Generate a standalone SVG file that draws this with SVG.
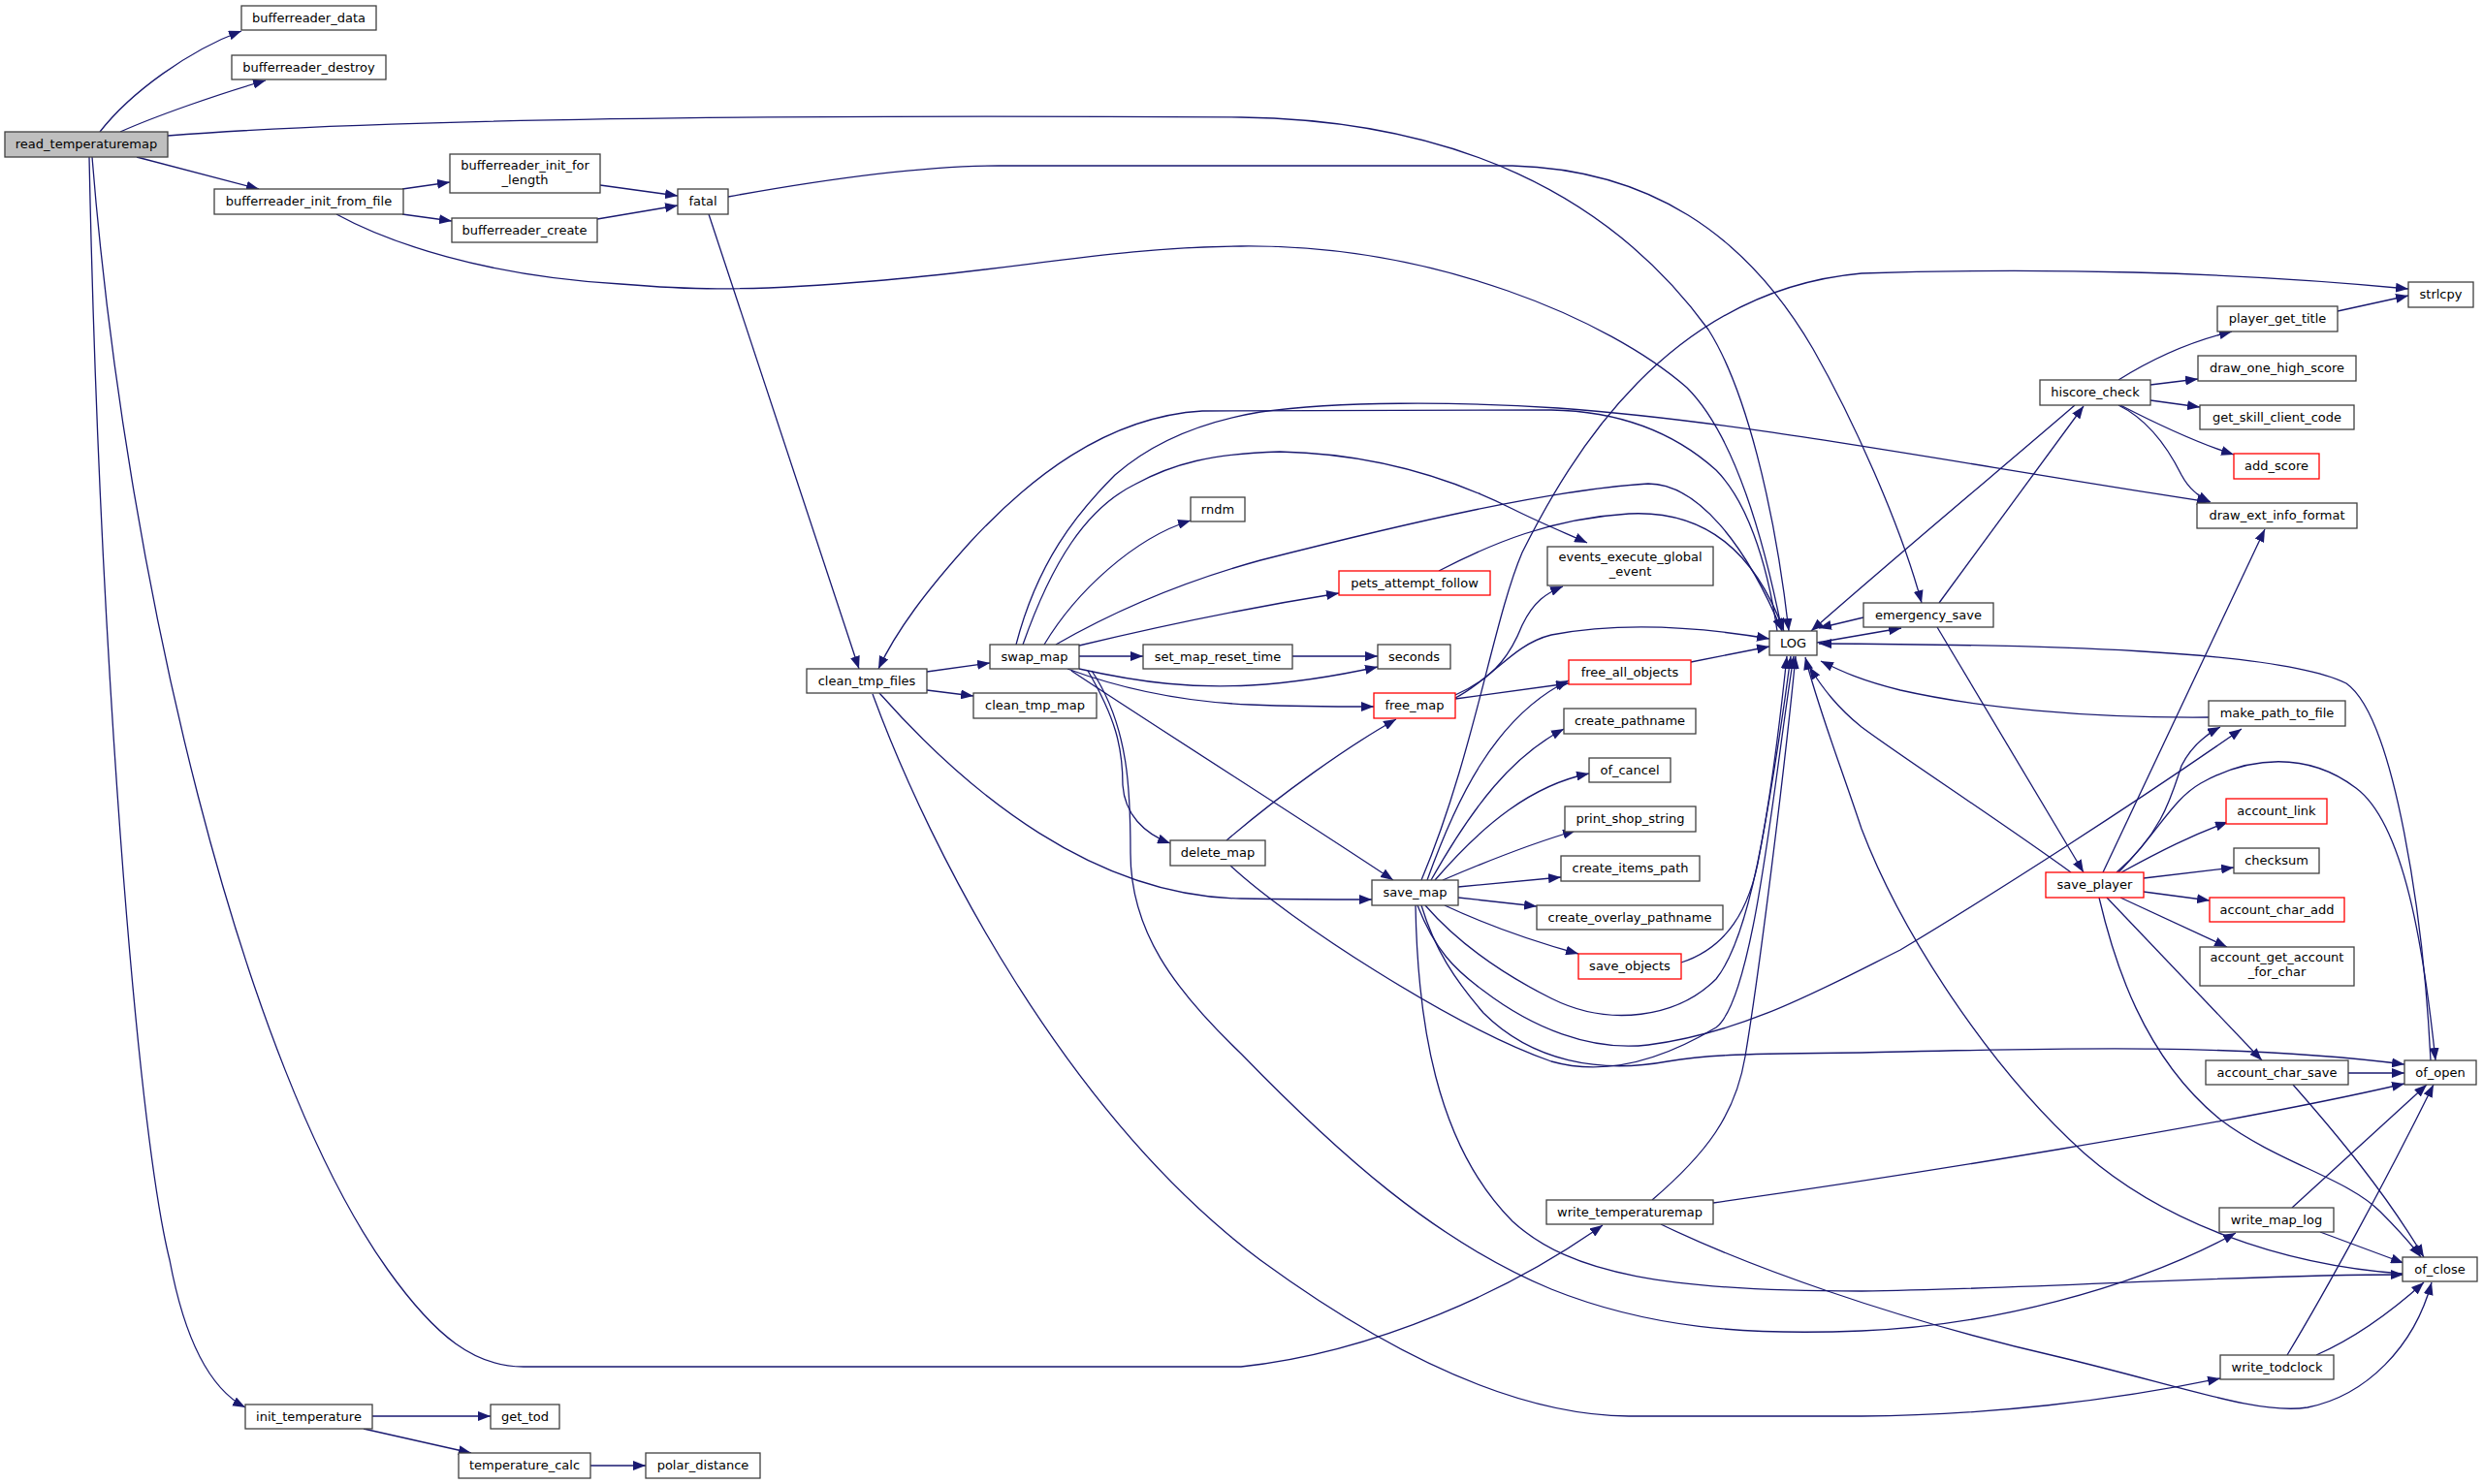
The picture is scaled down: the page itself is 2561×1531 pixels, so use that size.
<svg xmlns="http://www.w3.org/2000/svg" width="2561" height="1531" viewBox="0 0 2561 1531">
<style>
.n rect{fill:#fff;stroke:#404040;stroke-width:1.3}
.r rect{fill:#fff;stroke:#ff0000;stroke-width:1.3}
.root rect{fill:#bfbfbf;stroke:#404040;stroke-width:1.3}
text{font-family:'DejaVu Sans',sans-serif;font-size:13px;text-anchor:middle;fill:#000}
#edges path{fill:none;stroke:#191970;stroke-width:1.3;marker-end:url(#a)}
</style>
<defs>
<marker id="a" viewBox="0 0 13 10" refX="13" refY="5" markerWidth="13" markerHeight="10" markerUnits="userSpaceOnUse" orient="auto"><path d="M0,0L13,5L0,10z" fill="#191970"/></marker>
</defs>
<rect width="2561" height="1531" fill="#fff"/>
<g id="edges">
<path d="M103,136 C135,95 195,52 249,32"/>
<path d="M124,136 C160,120 225,97 274,83"/>
<path d="M173,140 C400,122 800,118 1280,121 C1500,124 1660,200 1762,340 C1800,400 1830,520 1845,651"/>
<path d="M141,162 L267,195"/>
<path d="M92,162 C102,650 140,1160 175,1300 C190,1380 215,1432 253,1452"/>
<path d="M95,162 C130,600 250,1100 400,1310 C450,1380 490,1410 540,1410 L1280,1410 C1420,1395 1560,1330 1653,1264"/>
<path d="M415,195 L464,188"/>
<path d="M415,221 L466,228"/>
<path d="M347,221 C400,250 500,285 640,293 C700,298 760,302 900,290 C1050,278 1150,255 1280,254 C1480,252 1660,330 1740,400 C1790,450 1820,560 1838,651"/>
<path d="M619,191 L699,202"/>
<path d="M616,226 L699,212"/>
<path d="M751,203 C850,185 950,171 1030,171 L1560,171 C1700,175 1800,240 1870,360 C1910,430 1960,540 1982,622"/>
<path d="M731,221 L886,690"/>
<path d="M956,693 L1021,684"/>
<path d="M956,712 L1004,718"/>
<path d="M907,715 C1000,820 1130,925 1280,927 C1340,928 1380,928 1415,928"/>
<path d="M900,716 C960,880 1100,1150 1300,1300 C1430,1395 1560,1460 1680,1461 L1920,1461 C2050,1460 2180,1445 2290,1422"/>
<path d="M1077,665 C1110,610 1170,555 1228,537"/>
<path d="M1113,677 L1179,677"/>
<path d="M1113,666 C1200,645 1300,625 1381,612"/>
<path d="M1055,665 C1085,580 1120,525 1170,500 C1210,478 1250,468 1320,466 C1420,468 1500,495 1560,525 C1590,540 1615,550 1637,560"/>
<path d="M1089,665 C1150,630 1220,600 1300,578 C1450,540 1600,505 1700,499 C1750,499 1800,560 1838,651"/>
<path d="M1048,665 C1070,580 1110,530 1150,490 C1190,455 1240,435 1300,425 C1380,414 1500,414 1607,421 C1800,435 2000,475 2279,518"/>
<path d="M1113,690 C1180,705 1230,710 1290,707 C1340,704 1380,697 1421,688"/>
<path d="M1101,690 C1160,712 1220,724 1290,727 C1340,729 1380,729 1417,729"/>
<path d="M1105,692 C1200,755 1350,850 1437,908"/>
<path d="M1122,692 C1150,740 1158,770 1158,810 C1160,840 1180,860 1207,870"/>
<path d="M1126,692 C1165,750 1166,820 1166,880 C1166,960 1210,1020 1280,1087 C1380,1190 1480,1280 1600,1330 C1700,1370 1800,1378 1920,1373 C2050,1368 2200,1330 2306,1272"/>
<path d="M1333,677 L1421,677"/>
<path d="M1484,589 C1540,560 1600,535 1680,530 C1760,526 1810,570 1840,651"/>
<path d="M1501,717 C1545,698 1560,670 1570,645 C1582,620 1595,612 1612,605"/>
<path d="M1501,720 C1540,700 1560,665 1600,655 C1680,640 1760,648 1825,659"/>
<path d="M1501,721 L1618,705"/>
<path d="M1265,867 C1320,820 1390,770 1440,742"/>
<path d="M1269,893 C1330,950 1500,1060 1600,1095 C1660,1112 1720,1090 1770,1060 C1810,1030 1830,800 1850,677"/>
<path d="M1466,908 C1520,780 1540,640 1570,570 C1620,470 1720,300 1920,282 C2100,276 2300,280 2484,298"/>
<path d="M1472,908 C1500,830 1540,740 1618,702"/>
<path d="M1476,908 C1520,830 1560,780 1613,752"/>
<path d="M1480,908 C1530,850 1580,810 1639,798"/>
<path d="M1488,908 C1530,890 1580,870 1625,857"/>
<path d="M1504,915 L1610,905"/>
<path d="M1504,926 L1585,935"/>
<path d="M1490,934 C1520,948 1570,968 1628,984"/>
<path d="M1466,934 C1480,980 1500,1010 1530,1045 C1580,1095 1650,1108 1720,1095 C1760,1088 1800,1087 1920,1086 C2100,1082 2300,1075 2480,1098"/>
<path d="M1462,934 C1480,980 1500,1000 1530,1022 C1580,1060 1640,1085 1700,1078 C1800,1065 1880,1020 1960,980 C2060,920 2200,830 2312,752"/>
<path d="M1460,934 C1462,1050 1480,1180 1560,1260 C1620,1315 1720,1332 1920,1332 C2100,1330 2300,1315 2479,1315"/>
<path d="M1470,934 C1510,980 1560,1010 1600,1030 C1660,1060 1730,1050 1770,1010 C1810,960 1830,800 1843,677"/>
<path d="M1734,993 C1780,978 1805,940 1815,880 C1830,800 1840,730 1847,677"/>
<path d="M1744,683 L1825,667"/>
<path d="M1704,1238 C1760,1190 1790,1150 1800,1090 C1815,1000 1840,800 1852,677"/>
<path d="M1767,1241 C1950,1215 2300,1160 2480,1118"/>
<path d="M1713,1263 C1800,1305 1950,1360 2124,1400 C2250,1430 2330,1460 2380,1452 C2440,1440 2490,1390 2508,1323"/>
<path d="M1833,651 C1822,575 1800,515 1770,485 C1720,440 1660,424 1600,423 L1240,424 C1140,430 1060,495 1000,560 C955,610 925,650 906,690"/>
<path d="M1874,663 L1961,648"/>
<path d="M1922,637 L1876,648"/>
<path d="M2000,622 L2149,419"/>
<path d="M1998,647 L2149,900"/>
<path d="M2140,418 C2080,470 1960,570 1868,651"/>
<path d="M2185,392 C2220,370 2260,352 2302,342"/>
<path d="M2218,397 L2267,391"/>
<path d="M2218,413 L2269,420"/>
<path d="M2187,418 C2220,435 2260,455 2304,469"/>
<path d="M2185,418 C2220,435 2240,470 2250,490 C2258,505 2268,512 2280,518"/>
<path d="M2411,321 L2484,305"/>
<path d="M2169,900 L2336,546"/>
<path d="M2183,900 C2230,860 2240,820 2250,790 C2260,770 2275,758 2290,750"/>
<path d="M2185,900 C2225,860 2240,825 2270,808 C2320,780 2380,775 2430,813 C2480,850 2500,980 2512,1094"/>
<path d="M2188,900 C2230,877 2260,862 2298,848"/>
<path d="M2211,906 L2304,895"/>
<path d="M2211,920 L2279,929"/>
<path d="M2187,926 L2297,977"/>
<path d="M2173,926 L2333,1094"/>
<path d="M2165,926 C2180,990 2210,1090 2290,1155 C2350,1200 2420,1215 2455,1250 C2475,1270 2488,1285 2497,1297"/>
<path d="M2136,900 C2060,845 1960,780 1920,750 C1895,730 1880,710 1866,688"/>
<path d="M2278,740 C2150,741 2040,730 1960,712 C1920,702 1900,693 1878,682"/>
<path d="M2507,1094 C2500,950 2470,740 2420,705 C2350,670 2100,665 1876,664"/>
<path d="M2478,1314 C2350,1305 2230,1260 2150,1190 C2050,1100 1960,960 1920,855 C1895,780 1875,730 1862,678"/>
<path d="M2422,1107 L2480,1107"/>
<path d="M2365,1119 C2410,1170 2460,1230 2500,1297"/>
<path d="M2364,1246 L2503,1119"/>
<path d="M2393,1271 L2479,1303"/>
<path d="M2359,1398 C2400,1330 2460,1220 2510,1119"/>
<path d="M2389,1398 C2430,1380 2470,1350 2500,1323"/>
<path d="M384,1461 L506,1461"/>
<path d="M375,1474 L486,1499"/>
<path d="M609,1512 L666,1512"/>
</g>
<g id="read_temperaturemap" class="root"><rect x="5" y="136" width="168" height="26"/><text x="89" y="153">read_temperaturemap</text></g>
<g id="bufferreader_data" class="n"><rect x="249" y="6" width="139" height="25"/><text x="318.5" y="23">bufferreader_data</text></g>
<g id="bufferreader_destroy" class="n"><rect x="239" y="57" width="159" height="25"/><text x="318.5" y="74">bufferreader_destroy</text></g>
<g id="bufferreader_init_from_file" class="n"><rect x="221" y="195" width="195" height="26"/><text x="318.5" y="212">bufferreader_init_from_file</text></g>
<g id="bufferreader_init_for_length" class="n"><rect x="464" y="159" width="155" height="40"/><text x="541.5" y="175">bufferreader_init_for</text><text x="541.5" y="190">_length</text></g>
<g id="bufferreader_create" class="n"><rect x="466" y="225" width="150" height="25"/><text x="541" y="242">bufferreader_create</text></g>
<g id="fatal" class="n"><rect x="699" y="195" width="52" height="26"/><text x="725" y="212">fatal</text></g>
<g id="clean_tmp_files" class="n"><rect x="832" y="690" width="124" height="25"/><text x="894" y="707">clean_tmp_files</text></g>
<g id="swap_map" class="n"><rect x="1021" y="665" width="92" height="25"/><text x="1067" y="682">swap_map</text></g>
<g id="clean_tmp_map" class="n"><rect x="1004" y="715" width="127" height="26"/><text x="1067.5" y="732">clean_tmp_map</text></g>
<g id="rndm" class="n"><rect x="1228" y="513" width="56" height="25"/><text x="1256" y="530">rndm</text></g>
<g id="set_map_reset_time" class="n"><rect x="1179" y="665" width="154" height="25"/><text x="1256" y="682">set_map_reset_time</text></g>
<g id="delete_map" class="n"><rect x="1207" y="867" width="98" height="26"/><text x="1256" y="884">delete_map</text></g>
<g id="seconds" class="n"><rect x="1421" y="665" width="75" height="25"/><text x="1458.5" y="682">seconds</text></g>
<g id="pets_attempt_follow" class="r"><rect x="1381" y="589" width="156" height="25"/><text x="1459" y="606">pets_attempt_follow</text></g>
<g id="free_map" class="r"><rect x="1417" y="715" width="84" height="26"/><text x="1459" y="732">free_map</text></g>
<g id="save_map" class="n"><rect x="1415" y="908" width="89" height="26"/><text x="1459.5" y="925">save_map</text></g>
<g id="events_execute_global_event" class="n"><rect x="1596" y="564" width="171" height="40"/><text x="1681.5" y="579">events_execute_global</text><text x="1681.5" y="594">_event</text></g>
<g id="free_all_objects" class="r"><rect x="1618" y="681" width="126" height="25"/><text x="1681" y="698">free_all_objects</text></g>
<g id="create_pathname" class="n"><rect x="1613" y="731" width="136" height="26"/><text x="1681" y="748">create_pathname</text></g>
<g id="of_cancel" class="n"><rect x="1639" y="782" width="84" height="25"/><text x="1681" y="799">of_cancel</text></g>
<g id="print_shop_string" class="n"><rect x="1614" y="832" width="135" height="26"/><text x="1681.5" y="849">print_shop_string</text></g>
<g id="create_items_path" class="n"><rect x="1610" y="883" width="143" height="26"/><text x="1681.5" y="900">create_items_path</text></g>
<g id="create_overlay_pathname" class="n"><rect x="1585" y="934" width="192" height="25"/><text x="1681" y="951">create_overlay_pathname</text></g>
<g id="save_objects" class="r"><rect x="1628" y="984" width="106" height="26"/><text x="1681" y="1001">save_objects</text></g>
<g id="write_temperaturemap" class="n"><rect x="1595" y="1238" width="172" height="25"/><text x="1681" y="1255">write_temperaturemap</text></g>
<g id="LOG" class="n"><rect x="1825" y="651" width="49" height="25"/><text x="1849.5" y="668">LOG</text></g>
<g id="emergency_save" class="n"><rect x="1922" y="622" width="134" height="25"/><text x="1989" y="639">emergency_save</text></g>
<g id="hiscore_check" class="n"><rect x="2104" y="392" width="114" height="26"/><text x="2161" y="409">hiscore_check</text></g>
<g id="save_player" class="r"><rect x="2110" y="900" width="101" height="26"/><text x="2160.5" y="917">save_player</text></g>
<g id="strlcpy" class="n"><rect x="2484" y="291" width="67" height="26"/><text x="2517.5" y="308">strlcpy</text></g>
<g id="player_get_title" class="n"><rect x="2287" y="316" width="124" height="26"/><text x="2349" y="333">player_get_title</text></g>
<g id="draw_one_high_score" class="n"><rect x="2267" y="367" width="163" height="26"/><text x="2348.5" y="384">draw_one_high_score</text></g>
<g id="get_skill_client_code" class="n"><rect x="2269" y="418" width="159" height="25"/><text x="2348.5" y="435">get_skill_client_code</text></g>
<g id="add_score" class="r"><rect x="2304" y="468" width="88" height="26"/><text x="2348" y="485">add_score</text></g>
<g id="draw_ext_info_format" class="n"><rect x="2266" y="519" width="165" height="26"/><text x="2348.5" y="536">draw_ext_info_format</text></g>
<g id="make_path_to_file" class="n"><rect x="2278" y="723" width="141" height="26"/><text x="2348.5" y="740">make_path_to_file</text></g>
<g id="account_link" class="r"><rect x="2296" y="824" width="104" height="26"/><text x="2348" y="841">account_link</text></g>
<g id="checksum" class="n"><rect x="2304" y="875" width="88" height="26"/><text x="2348" y="892">checksum</text></g>
<g id="account_char_add" class="r"><rect x="2279" y="926" width="139" height="25"/><text x="2348.5" y="943">account_char_add</text></g>
<g id="account_get_account_for_char" class="n"><rect x="2269" y="977" width="159" height="40"/><text x="2348.5" y="992">account_get_account</text><text x="2348.5" y="1007">_for_char</text></g>
<g id="account_char_save" class="n"><rect x="2275" y="1094" width="147" height="25"/><text x="2348.5" y="1111">account_char_save</text></g>
<g id="of_open" class="n"><rect x="2480" y="1094" width="74" height="25"/><text x="2517" y="1111">of_open</text></g>
<g id="write_map_log" class="n"><rect x="2289" y="1246" width="118" height="25"/><text x="2348" y="1263">write_map_log</text></g>
<g id="of_close" class="n"><rect x="2478" y="1297" width="77" height="25"/><text x="2516.5" y="1314">of_close</text></g>
<g id="write_todclock" class="n"><rect x="2290" y="1398" width="117" height="25"/><text x="2348.5" y="1415">write_todclock</text></g>
<g id="init_temperature" class="n"><rect x="253" y="1449" width="131" height="25"/><text x="318.5" y="1466">init_temperature</text></g>
<g id="get_tod" class="n"><rect x="506" y="1449" width="71" height="25"/><text x="541.5" y="1466">get_tod</text></g>
<g id="temperature_calc" class="n"><rect x="473" y="1499" width="136" height="26"/><text x="541" y="1516">temperature_calc</text></g>
<g id="polar_distance" class="n"><rect x="666" y="1499" width="118" height="26"/><text x="725" y="1516">polar_distance</text></g>
</svg>
